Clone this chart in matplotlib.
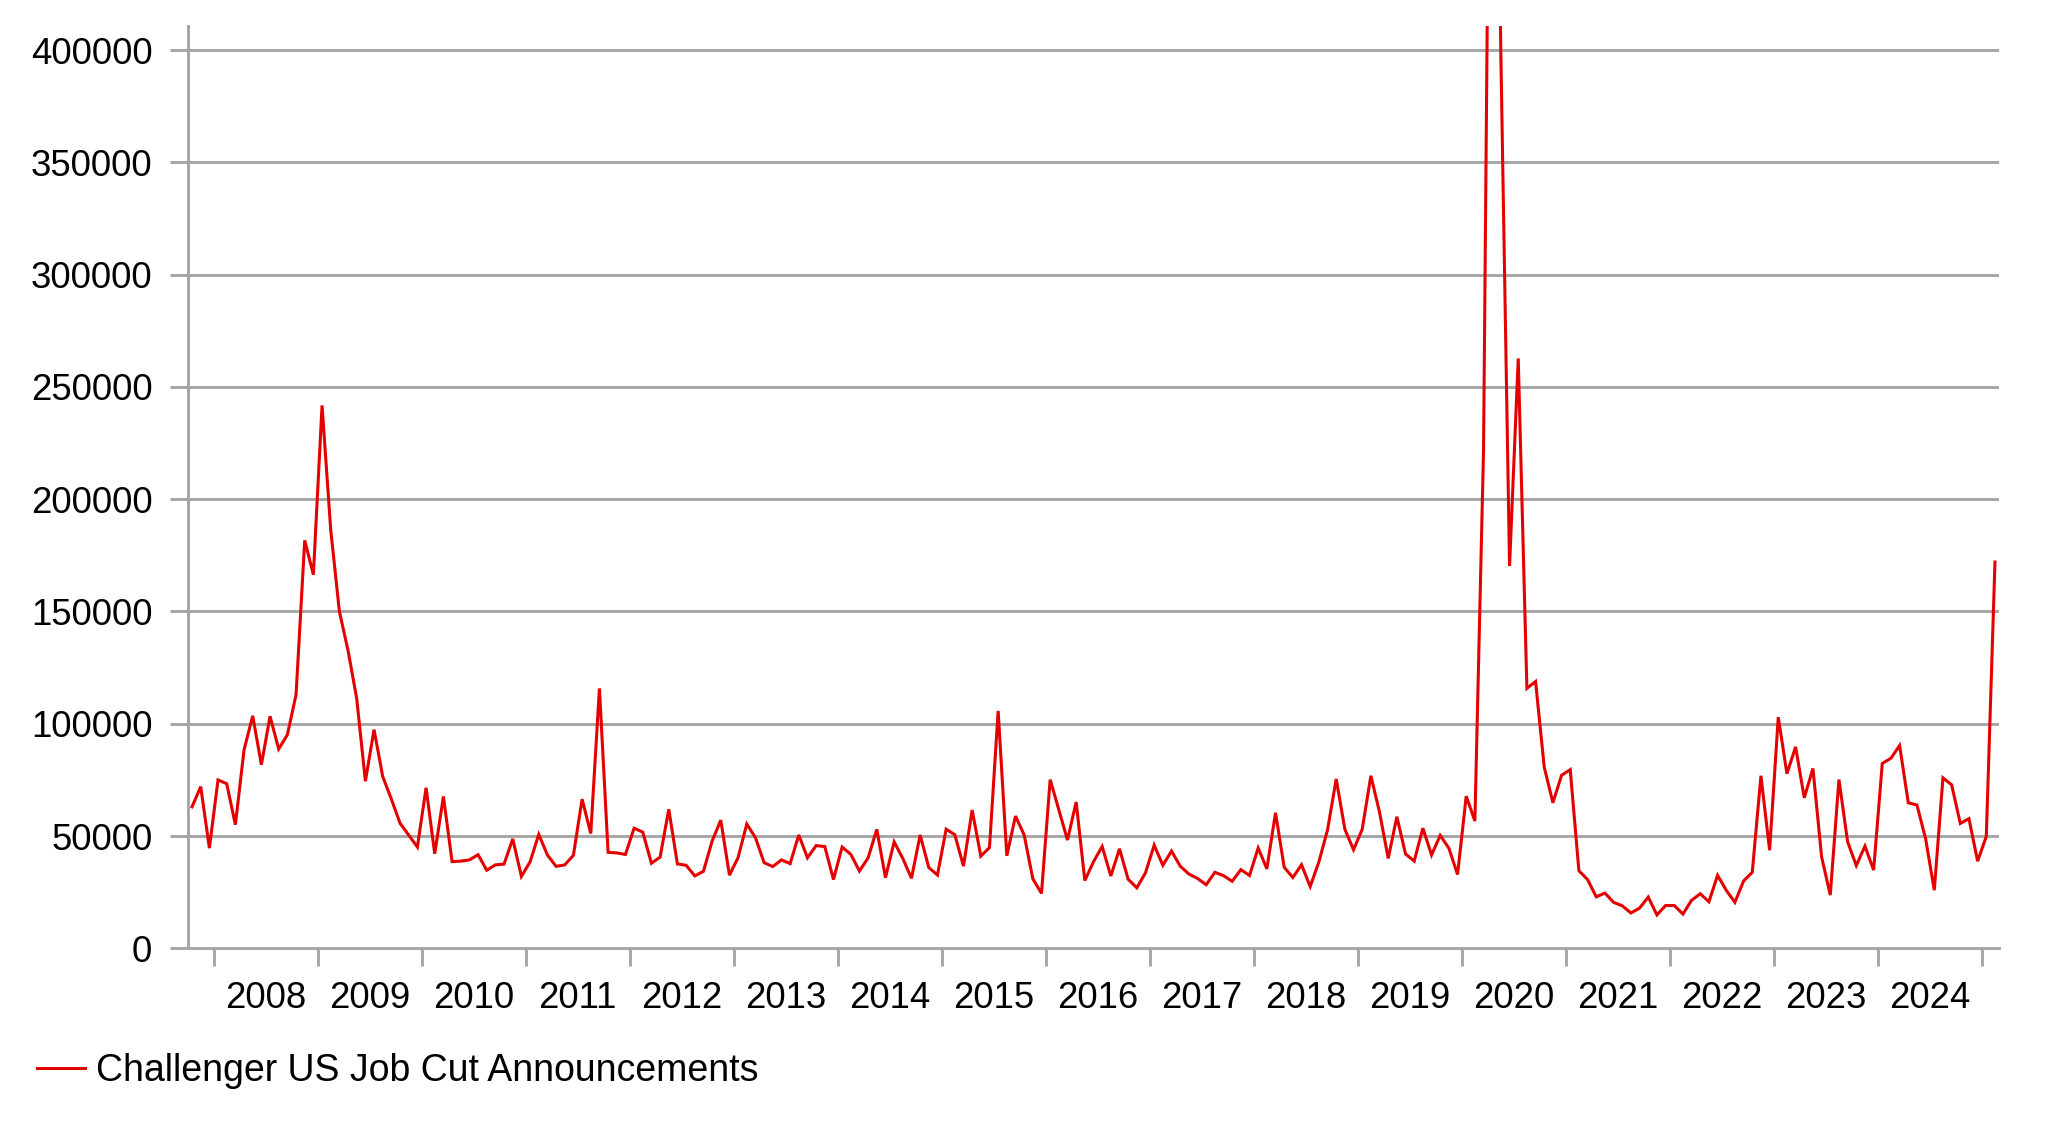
import matplotlib
matplotlib.use("Agg")
import matplotlib.pyplot as plt
import numpy as np

# Monthly data, Oct 2007 .. Feb 2025
start_year, start_month = 2007, 10
values_2007 = [63000, 72000, 44600]
values_2008 = [74986, 73291, 55038, 88321, 103522, 81755, 103312, 88736, 95094, 112884, 181671, 166348]
values_2009 = [241749, 186350, 150000, 132590, 111182, 74393, 97373, 76456, 66404, 55679, 50349, 45094]
values_2010 = [71482, 42090, 67611, 38601, 38810, 39358, 41676, 34768, 37151, 37515, 48711, 32004]
values_2011 = [38519, 50702, 41528, 36490, 37135, 41432, 66414, 51114, 115730, 42759, 42474, 41785]
values_2012 = [53486, 51728, 37880, 40559, 61887, 37551, 36975, 32239, 34268, 47724, 57081, 32556]
values_2013 = [40430, 55356, 49255, 38121, 36398, 39372, 37701, 50462, 40289, 45730, 45314, 30623]
values_2014 = [45107, 41835, 34399, 40298, 52961, 31434, 47392, 40010, 31155, 50462, 35940, 32640]
values_2015 = [53041, 50579, 36594, 61582, 41034, 44842, 105696, 41186, 58877, 50504, 30953, 24447]
values_2016 = [75114, 61599, 48207, 65141, 30157, 38536, 45346, 32188, 44324, 30740, 26936, 33627]
values_2017 = [45934, 36957, 43310, 36602, 33092, 31105, 28307, 33825, 32346, 29831, 35038, 32423]
values_2018 = [44653, 35369, 60357, 36081, 31517, 37202, 27500, 38472, 52700, 75400, 53000, 43884]
values_2019 = [52988, 76835, 60587, 40023, 58577, 41977, 38845, 53480, 41557, 50275, 44569, 32843]
values_2020 = [67735, 56660, 222288, 671129, 397016, 170219, 262649, 115762, 118804, 80666, 64797, 77030]
values_2021 = [79552, 34531, 30603, 22913, 24586, 20476, 18942, 15723, 17895, 22822, 14875, 19052]
values_2022 = [19064, 15245, 21387, 24286, 20712, 32517, 25810, 20485, 29989, 33843, 76835, 43651]
values_2023 = [102943, 77770, 89703, 66995, 80089, 40709, 23697, 75151, 47457, 36836, 45510, 34817]
values_2024 = [82307, 84638, 90309, 64789, 63816, 48786, 25885, 75891, 72821, 55597, 57727, 38792]
values_2025 = [49795, 172017]

job_cuts = (values_2007 + values_2008 + values_2009 + values_2010 + values_2011 + values_2012
            + values_2013 + values_2014 + values_2015 + values_2016 + values_2017 + values_2018
            + values_2019 + values_2020 + values_2021 + values_2022 + values_2023 + values_2024
            + values_2025)

year_labels = [str(y) for y in range(2008, 2025)]
y_ticks = [0, 50000, 100000, 150000, 200000, 250000, 300000, 350000, 400000]
series_name = "Challenger US Job Cut Announcements"

plt.rcParams['font.family'] = ['Liberation Sans', 'DejaVu Sans']

W, H = 2050, 1140
fig = plt.figure(figsize=(W / 100, H / 100), dpi=100)
left, right, top, bottom = 187.7, 1999.3, 26.0, 948.3
ax = fig.add_axes([left / W, 1 - bottom / H, (right - left) / W, (bottom - top) / H])

grid_c = '#a6a6a6'
red = '#e50000'

x = np.arange(len(job_cuts))
ax.plot(x, job_cuts, color=red, lw=2.2, solid_joinstyle='miter', zorder=3, label=series_name)

ax.set_xlim(-0.5, len(job_cuts) - 0.5)
ax.set_ylim(0, 410700)

# y axis
ax.set_yticks(y_ticks)
ax.set_yticklabels([str(v) for v in y_ticks])
ax.yaxis.grid(True, color=grid_c, lw=2.1)
ax.set_axisbelow(True)
ax.tick_params(axis='y', which='major', length=13, width=2.1, color=grid_c,
               labelsize=26.3, pad=12.5, labelcolor='black')

# x axis: ticks between years, labels centred
first_jan = 12 - start_month + 1  # index of Jan 2008
n_years = len(year_labels)
major = [first_jan - 0.5 + 12 * k for k in range(n_years + 1)]
minor = [first_jan - 0.5 + 6 + 12 * k for k in range(n_years)]
ax.set_xticks(major)
ax.set_xticklabels([])
ax.set_xticks(minor, minor=True)
ax.set_xticklabels(year_labels, minor=True)
ax.tick_params(axis='x', which='major', length=13, width=2.1, color=grid_c)
ax.tick_params(axis='x', which='minor', length=0, labelsize=26.3, pad=23.5, labelcolor='black')

for s in ['top', 'right']:
    ax.spines[s].set_visible(False)
for s in ['left', 'bottom']:
    ax.spines[s].set_color(grid_c)
    ax.spines[s].set_linewidth(2.1)

fig.legend(loc='center left', bbox_to_anchor=(36.6 / W, 1 - 1071 / H), frameon=False,
           fontsize=27, handlelength=1.3, handletextpad=0.28, borderpad=0, borderaxespad=0)

fig.savefig('out.png', dpi=100, facecolor='white')
